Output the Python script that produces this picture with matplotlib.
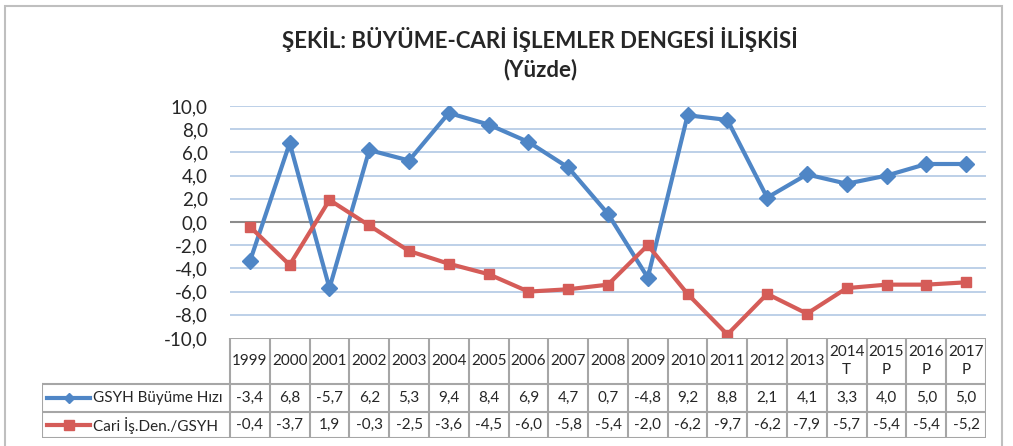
import numpy as np
import matplotlib.pyplot as plt
from matplotlib.patches import Rectangle

plt.rcParams['font.family'] = ['Lato', 'DejaVu Sans']

years = ['1999', '2000', '2001', '2002', '2003', '2004', '2005', '2006', '2007',
         '2008', '2009', '2010', '2011', '2012', '2013', '2014\nT', '2015\nP',
         '2016\nP', '2017\nP']
gsyh = [-3.4, 6.8, -5.7, 6.2, 5.3, 9.4, 8.4, 6.9, 4.7, 0.7, -4.8, 9.2, 8.8,
        2.1, 4.1, 3.3, 4.0, 5.0, 5.0]
cari = [-0.4, -3.7, 1.9, -0.3, -2.5, -3.6, -4.5, -6.0, -5.8, -5.4, -2.0, -6.2,
        -9.7, -6.2, -7.9, -5.7, -5.4, -5.4, -5.2]
series_names = ['GSYH Büyüme Hızı', 'Cari İş.Den./GSYH']
yticks = np.arange(-10, 10.1, 2)

BLUE = '#4f86c6'
RED = '#d55c58'
GRID = '#b8cde6'
EDGE = '#a6a6a6'
TXT = '#262626'

W, H = 1013, 446
fig = plt.figure(figsize=(W / 100, H / 100), dpi=100)

def px(x0, y0, x1, y1):
    # pixel box (top-left origin) -> figure fraction rect
    return [x0 / W, 1 - y1 / H, (x1 - x0) / W, (y1 - y0) / H]

def fmt(v):
    return f'{v:.1f}'.replace('.', ',')

# outer frame
fig.patches.append(Rectangle((5 / W, -0.05), 997 / W, 1.05 - 6 / H,
                             transform=fig.transFigure, fill=False,
                             edgecolor='#bfbfbf', lw=1.5))

fig.text(540 / W, 1 - 39 / H, 'ŞEKİL: BÜYÜME-CARİ İŞLEMLER DENGESİ İLİŞKİSİ',
         ha='center', va='center', fontsize=16, fontweight='bold', color=TXT)
fig.text(540 / W, 1 - 70 / H, '(Yüzde)', ha='center', va='center',
         fontsize=16, fontweight='bold', color=TXT)

x = np.arange(len(years))
ax = fig.add_axes(px(230, 106, 986, 338))
ax.set_xlim(-0.5, len(years) - 0.5)
ax.set_ylim(-10, 10)
for v in yticks:
    if v == 0:
        ax.axhline(v, color='#8c8c8c', lw=1.5, zorder=1)
    elif v > -10:
        ax.axhline(v, color=GRID, lw=1.3, zorder=1)
ax.plot(x, gsyh, color=BLUE, lw=3, marker='D', ms=8, zorder=3)
ax.plot(x, cari, color=RED, lw=3, marker='s', ms=7.5, zorder=3)
ax.set_yticks(yticks)
ax.set_yticklabels([fmt(v) for v in yticks], fontsize=13.5, color=TXT)
ax.tick_params(axis='y', length=0, pad=16)
ax.set_xticks([])
for s in ax.spines.values():
    s.set_visible(False)

# data table under the plot
col_w = (986 - 230) / len(years)
tab = fig.add_axes(px(42, 338, 986, 438))
left = -0.5 - (230 - 42) / col_w
tab.set_xlim(left, len(years) - 0.5)
tab.set_ylim(438, 338)
tab.axis('off')
rows = [338, 384, 412, 438]
kw = dict(color=EDGE, lw=1.5, solid_capstyle='projecting')
tab.plot([-0.5, len(years) - 0.5], [rows[0]] * 2, **kw)
for r in rows[1:]:
    tab.plot([left, len(years) - 0.5], [r] * 2, **kw)
for i in range(len(years) + 1):
    tab.plot([i - 0.5] * 2, [rows[0], rows[3]], **kw)
tab.plot([left] * 2, [rows[1], rows[3]], **kw)

fs = 11
for i, yl in enumerate(years):
    tab.text(i, (rows[0] + rows[1]) / 2, yl, ha='center', va='center',
             fontsize=fs, color=TXT, linespacing=1.45)
    tab.text(i, (rows[1] + rows[2]) / 2, fmt(gsyh[i]),
             ha='center', va='center', fontsize=fs, color=TXT)
    tab.text(i, (rows[2] + rows[3]) / 2, fmt(cari[i]),
             ha='center', va='center', fontsize=fs, color=TXT)

for k, (name, c, m, ms) in enumerate(zip(series_names, [BLUE, RED], ['D', 's'], [5, 7])):
    yc = (rows[k + 1] + rows[k + 2]) / 2
    x0 = left + 5 / col_w
    x1 = left + 48 / col_w
    tab.plot([x0, x1], [yc, yc], color=c, lw=3)
    tab.plot([(x0 + x1) / 2], [yc], color=c, marker=m, ms=ms)
    tab.text(x1 + 3 / col_w, yc, name, ha='left', va='center',
             fontsize=fs, color=TXT)

fig.savefig('out.png', dpi=100)
